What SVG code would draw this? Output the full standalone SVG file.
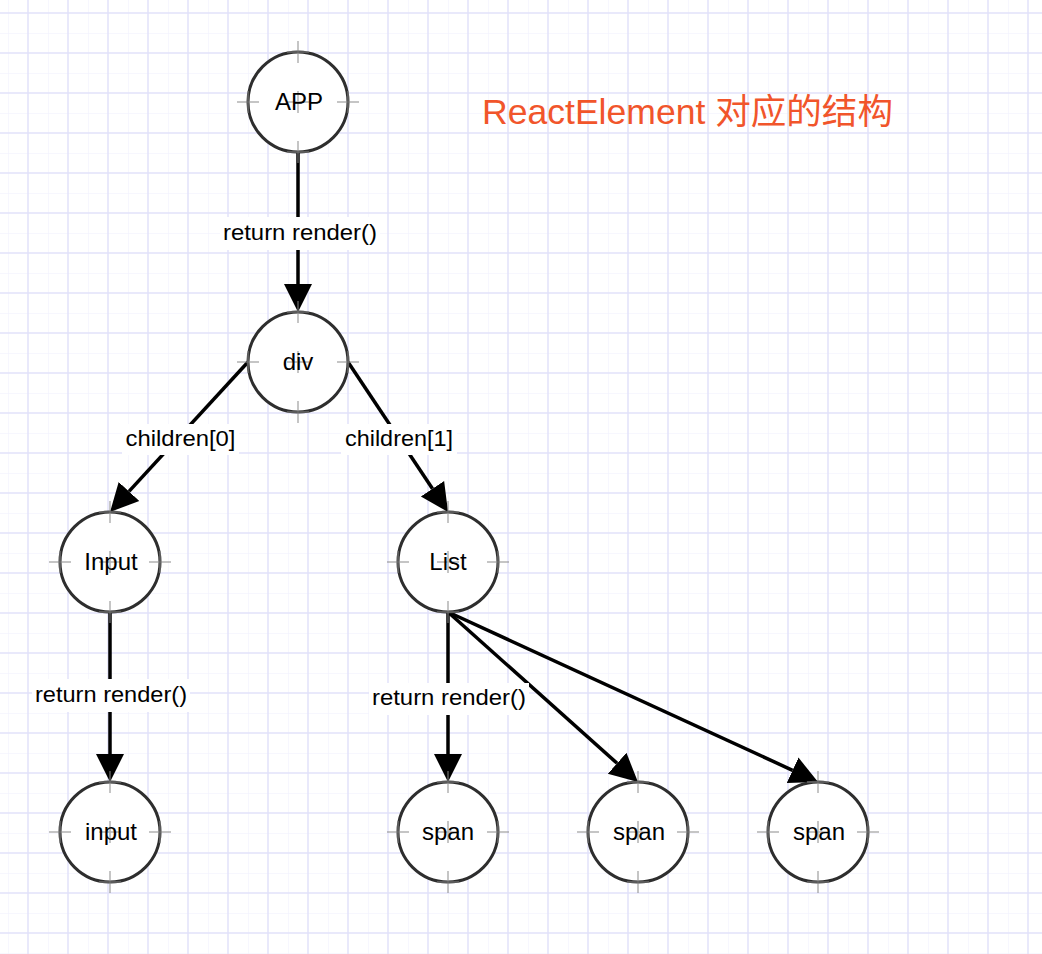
<svg xmlns="http://www.w3.org/2000/svg" width="1042" height="954" viewBox="0 0 1042 954">
  <defs>
    <pattern id="grid" x="8" y="-7" width="40" height="40" patternUnits="userSpaceOnUse">
      <line x1="0" y1="0" x2="0" y2="40" class="gmin"/>
      <line x1="0" y1="0" x2="40" y2="0" class="gmin"/>
      <line x1="20" y1="0" x2="20" y2="40" class="gmaj"/>
      <line x1="0" y1="20" x2="40" y2="20" class="gmaj"/>
    </pattern>
    <marker id="arrow" markerUnits="userSpaceOnUse" markerWidth="32" markerHeight="32" viewBox="0 -16 32 32" refX="0" refY="0" orient="auto">
      <path d="M0,-14 L28,0 L0,14 Z" fill="#000"/>
    </marker>
    <g id="cross">
      <path d="M0,-50 m0,-11 v22 M-11,-50 h22 M0,50 m0,-11 v22 M-11,50 h22 M-50,0 m-11,0 h22 M-50,-11 v22 M50,0 m-11,0 h22 M50,-11 v22 M0,-11 v22 M-11,0 h22" class="xh"/>
    </g>
  </defs>
  <style>
    .gmin { stroke: #f4f4fe; stroke-width: 1.5; }
    .gmaj { stroke: #e2e2fa; stroke-width: 1.5; }
    .node circle { fill: #ffffff; stroke: #2e2e2e; stroke-width: 3; }
    .xh { stroke: #8a8a8a; stroke-opacity: 0.65; stroke-width: 1.5; fill: none; }
    .ntext { font-family: "Liberation Sans", Arial, sans-serif; font-size: 24px; fill: #000; text-anchor: middle; }
    .edge { stroke: #000; stroke-width: 3.5; fill: none; marker-end: url(#arrow); }
    .lbg { fill: #ffffff; }
    .ltext { font-family: "Liberation Sans", Arial, sans-serif; font-size: 22px; fill: #000; text-anchor: middle; }
    .title { font-family: "Liberation Sans", Arial, "Noto Sans CJK SC", sans-serif; font-size: 35px; fill: #f1552b; }
  </style>

  <rect x="0" y="0" width="1042" height="954" fill="#ffffff"/>
  <rect x="0" y="0" width="1042" height="954" fill="url(#grid)"/>

  <g id="connectors">
    <path class="edge" d="M298,152 L298,284"/>
    <path class="edge" d="M248,362 L129,491.4"/>
    <path class="edge" d="M348,362 L432.5,488.7"/>
    <path class="edge" d="M110,612 L110,754"/>
    <path class="edge" d="M448,612 L448,754"/>
    <path class="edge" d="M448,612 L617.1,763.3"/>
    <path class="edge" d="M448,612 L792.6,770.3"/>
    <g id="edge-labels">
      <rect class="lbg" x="220" y="217" width="160" height="33"/>
      <text class="ltext" x="300" y="240" textLength="154" lengthAdjust="spacingAndGlyphs">return render()</text>
      <rect class="lbg" x="122" y="424" width="117" height="31"/>
      <text class="ltext" x="180.5" y="446" textLength="110" lengthAdjust="spacingAndGlyphs">children[0]</text>
      <rect class="lbg" x="341" y="424" width="116" height="31"/>
      <text class="ltext" x="399" y="446" textLength="108" lengthAdjust="spacingAndGlyphs">children[1]</text>
      <rect class="lbg" x="32" y="679" width="158" height="33"/>
      <text class="ltext" x="111" y="702" textLength="152" lengthAdjust="spacingAndGlyphs">return render()</text>
      <rect class="lbg" x="369" y="683" width="160" height="32"/>
      <text class="ltext" x="449" y="705" textLength="154" lengthAdjust="spacingAndGlyphs">return render()</text>
    </g>
  </g>

  <g id="node-app" class="node">
    <circle cx="298" cy="102" r="50"/>
    <use href="#cross" x="298" y="102"/>
    <text class="ntext" x="299" y="110">APP</text>
  </g>
  <g id="node-div" class="node">
    <circle cx="298" cy="362" r="50"/>
    <use href="#cross" x="298" y="362"/>
    <text class="ntext" x="298" y="370">div</text>
  </g>
  <g id="node-Input" class="node">
    <circle cx="110" cy="562" r="50"/>
    <use href="#cross" x="110" y="562"/>
    <text class="ntext" x="111" y="570">Input</text>
  </g>
  <g id="node-List" class="node">
    <circle cx="448" cy="562" r="50"/>
    <use href="#cross" x="448" y="562"/>
    <text class="ntext" x="448" y="570">List</text>
  </g>
  <g id="node-input" class="node">
    <circle cx="110" cy="832" r="50"/>
    <use href="#cross" x="110" y="832"/>
    <text class="ntext" x="111" y="840">input</text>
  </g>
  <g id="node-span1" class="node">
    <circle cx="448" cy="832" r="50"/>
    <use href="#cross" x="448" y="832"/>
    <text class="ntext" x="448" y="840">span</text>
  </g>
  <g id="node-span2" class="node">
    <circle cx="638" cy="832" r="50"/>
    <use href="#cross" x="638" y="832"/>
    <text class="ntext" x="639" y="840">span</text>
  </g>
  <g id="node-span3" class="node">
    <circle cx="818" cy="832" r="50"/>
    <use href="#cross" x="818" y="832"/>
    <text class="ntext" x="819" y="840">span</text>
  </g>

  <g id="title">
    <text class="title" x="482" y="124" textLength="411" lengthAdjust="spacingAndGlyphs">ReactElement 对应的结构</text>
  </g>
</svg>
